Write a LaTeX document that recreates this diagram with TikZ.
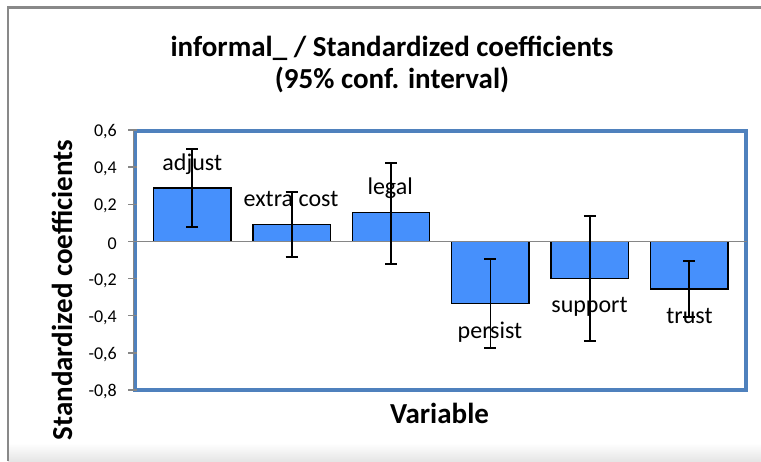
\documentclass[tikz,border=0pt]{standalone}
\usepackage{fontspec}
\setmainfont{Carlito}
\definecolor{framegray}{RGB}{137,137,137}
\definecolor{axisgray}{RGB}{134,134,134}
\definecolor{plotblue}{RGB}{79,129,189}
\definecolor{barblue}{RGB}{70,144,252}
\tikzset{
  titletext/.style={font=\fontsize{29}{32}\bfseries\selectfont, inner sep=0pt},
  ticklabel/.style={font=\fontsize{18}{20}\selectfont, inner sep=0pt, anchor=east},
  barlabel/.style={font=\fontsize{24}{26}\selectfont, inner sep=0pt, anchor=base},
  barbox/.style={draw=black, line width=1.4pt, fill=barblue},
  errbar/.style={draw=black, line width=1.8pt},
  gridtick/.style={draw=axisgray, line width=1.5pt},
}
\begin{document}
\begin{tikzpicture}[x=1pt,y=-1pt]
\useasboundingbox (0,0) rectangle (761,461);
\fill[white] (0,0) rectangle (761,461);
% soft band along the lower edge
\shade[top color=white, bottom color=black!10] (8,443) rectangle (761,461);
% chart area border
\draw[framegray, line width=2.4pt] (7.8,461) -- (7.8,7.5) -- (761,7.5);

% titles
\node[titletext, anchor=base] (title1) at (392,56) {informal\_ / Standardized coefficients};
\node[titletext, anchor=base] (title2) at (392,88) {(95\% conf. interval)};
\node[titletext, anchor=base, rotate=90] (ytitle) at (72,290) {Standardized coefficients};
\node[titletext, anchor=base] (xtitle) at (439.5,423) {Variable};

% plot area frame
\draw[plotblue, line width=4pt] (135.3,130.5) rectangle (746.3,390);

\begin{scope}[shift={(0,241.4)}, y=185.7pt]
  % value axis and tick marks
  \draw[gridtick] (133.6,0.6) -- (133.6,-0.8);
  \foreach \v/\t [count=\i] in {0.6/{0,6},0.4/{0,4},0.2/{0,2},0/{0},-0.2/{-0,2},-0.4/{-0,4},-0.6/{-0,6},-0.8/{-0,8}}{
    \draw[gridtick] (128,\v) -- (137,\v);
    \node[ticklabel, yshift=-2pt] (tick\i) at (117,\v) {\t};
  }
  % bars
  \foreach \cx/\v [count=\i] in {192.3/0.288, 291.7/0.092, 391.0/0.155, 490.4/-0.333, 589.8/-0.199, 689.3/-0.256}{
    \draw[barbox] ({\cx-38.7},0) rectangle ({\cx+38.7},\v);
  }
  % zero line
  \draw[gridtick] (134,0) -- (747,0);
  % confidence intervals
  \foreach \cx/\hi/\lo [count=\i] in {192.3/0.498/0.077, 291.7/0.268/-0.082, 391.0/0.424/-0.122, 490.4/-0.095/-0.572, 589.8/0.138/-0.535, 689.3/-0.104/-0.409}{
    \coordinate (hi\i) at (\cx,\hi);
    \coordinate (lo\i) at (\cx,\lo);
    \draw[errbar] (hi\i) -- (lo\i);
    \draw[errbar] ([xshift=-6pt]hi\i) -- ([xshift=6pt]hi\i);
    \draw[errbar] ([xshift=-6pt]lo\i) -- ([xshift=6pt]lo\i);
  }
  % variable names
  \foreach \cx/\ly/\t [count=\i] in {192.3/0.3845/adjust, 291.0/0.1869/extra cost, 390.2/0.2499/legal, 490.0/-0.5218/persist, 589.5/-0.384/support, 689.5/-0.441/trust}{
    \node[barlabel] (name\i) at (\cx,\ly) {\t};
  }
\end{scope}
\end{tikzpicture}
\end{document}
